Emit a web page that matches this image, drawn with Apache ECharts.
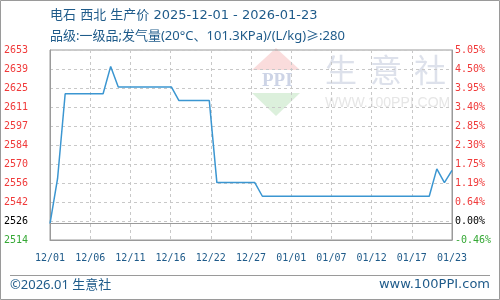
<!DOCTYPE html>
<html><head><meta charset="utf-8">
<script src="https://cdn.jsdelivr.net/npm/echarts@6/dist/echarts.min.js"></script>
<style>html,body{margin:0;padding:0;background:#fff}#c{width:500px;height:300px}</style>
</head><body><div id="c"></div>
<script>
// Data (vertices of the price line)
const dates  = ['2025-12-01','2025-12-02','2025-12-03','2025-12-08','2025-12-09','2025-12-10','2025-12-17','2025-12-18','2025-12-22','2025-12-23','2025-12-28','2025-12-29','2026-01-20','2026-01-21','2026-01-22','2026-01-23'];
const prices = [2526,2559,2621,2621,2641,2626,2626,2616,2616,2556,2556,2546,2546,2566,2556,2565];
const startDate = '2025-12-01';
const endDate = '2026-01-23';
const basePrice = 2526;
const leftTicks  = ['2514','2526','2542','2556','2570','2584','2597','2611','2625','2639','2653'];
const rightTicks = ['-0.46%','0.00%','0.64%','1.19%','1.75%','2.30%','2.85%','3.40%','3.95%','4.50%','5.05%'];
const titleLine1 = '电石 西北 生产价 2025-12-01 - 2026-01-23';
const titleLine2 = '品级:一级品;发气量(20°C、101.3KPa)/(L/kg)≥:280';

const DAY = 86400000;
const t0 = Date.parse(startDate);
const totalDays = (Date.parse(endDate) - t0) / DAY;
const seriesData = dates.map((d, i) => [(Date.parse(d) - t0) / DAY, prices[i]]);
function fmtDay(v) {
  const dt = new Date(t0 + Math.floor(v + 1e-6) * DAY);
  const m = String(dt.getUTCMonth() + 1).padStart(2, '0');
  const d = String(dt.getUTCDate()).padStart(2, '0');
  return m + '/' + d;
}
function tickColor(i) { return i === 0 ? '#35a835' : (i === 1 ? '#000000' : '#f03a3a'); }

const chart = echarts.init(document.getElementById('c'), null, {renderer: 'canvas'});
const mono = 'DejaVu Sans Mono';
const blue = '#1f5b8a';
chart.setOption({
  animation: false,
  backgroundColor: '#fff',
  grid: {left: 50, right: 48, top: 50, bottom: 60, show: true, borderColor: '#9a9a9a', borderWidth: 1},
  xAxis: {
    type: 'value', min: 0, max: totalDays, interval: totalDays / 10,
    axisLine: {show: true, lineStyle: {color: '#9a9a9a'}},
    axisTick: {show: false},
    splitLine: {show: true, lineStyle: {color: '#c8c8c8', type: [3, 3]}},
    axisLabel: {color: blue, fontFamily: mono, fontSize: 10, margin: 13, showMinLabel: true, showMaxLabel: true, formatter: fmtDay}
  },
  yAxis: [
    {type: 'value', min: 2514, max: 2653, show: false, splitLine: {show: false}},
    {type: 'value', position: 'left', min: 0, max: 10, interval: 1,
      axisLine: {show: true, lineStyle: {color: '#9a9a9a'}}, axisTick: {show: false},
      splitLine: {show: true, lineStyle: {color: '#c8c8c8', type: [3, 3]}},
      axisLabel: {fontFamily: mono, fontSize: 10, margin: 22,
        formatter: (v) => leftTicks[Math.round(v)],
        color: (v) => tickColor(Math.round(v))}},
    {type: 'value', position: 'right', min: 0, max: 10, interval: 1,
      axisLine: {show: true, lineStyle: {color: '#9a9a9a'}}, axisTick: {show: false},
      splitLine: {show: false},
      axisLabel: {fontFamily: mono, fontSize: 10, margin: 3,
        formatter: (v) => rightTicks[Math.round(v)],
        color: (v) => tickColor(Math.round(v))}}
  ],
  graphic: [
    {type: 'rect', shape: {x: 0.5, y: 0.5, width: 499, height: 299}, style: {fill: null, stroke: '#9a9a9a', lineWidth: 1}, silent: true, z: 100},
    {type: 'text', x: 50, y: 15.5, style: {text: titleLine1, fill: blue, font: '13px "DejaVu Sans", "Noto Sans CJK SC"', verticalAlign: 'middle'}},
    {type: 'text', x: 50, y: 36, style: {text: titleLine2, fill: blue, font: '13px "Noto Sans", "Noto Sans CJK SC"', verticalAlign: 'middle'}},
    {type: 'line', shape: {x1: 10, y1: 275.5, x2: 490, y2: 275.5}, style: {stroke: '#9a9a9a', lineWidth: 1}},
    {type: 'text', x: 10, y: 285, style: {text: '©2026.01 生意社', fill: blue, font: '13px "Noto Sans", "Noto Sans CJK SC"', verticalAlign: 'middle'}},
    {type: 'text', x: 490, y: 285, style: {text: 'www.100PPI.com', fill: blue, font: '13px "DejaVu Sans", "Noto Sans CJK SC"', verticalAlign: 'middle', align: 'right'}},
    // watermark
    {type: 'polygon', shape: {points: [[252, 70], [276, 48], [300, 70]]}, style: {fill: '#fadcdc'}, silent: true, z: -1},
    {type: 'polygon', shape: {points: [[252, 93], [276, 116], [300, 93]]}, style: {fill: '#dcf0dc'}, silent: true, z: -1},
    {type: 'text', x: 262, y: 81.5, style: {text: 'PPI', fill: '#cdd4e6', font: 'bold 19px "Liberation Serif"', verticalAlign: 'middle'}, silent: true, z: -1},
    {type: 'text', x: 325, y: 70, style: {text: '生', fill: '#dde1eb', font: '32px "Noto Sans CJK SC"', verticalAlign: 'middle'}, silent: true, z: -1},
    {type: 'text', x: 370, y: 70, style: {text: '意', fill: '#dde1eb', font: '32px "Noto Sans CJK SC"', verticalAlign: 'middle'}, silent: true, z: -1},
    {type: 'text', x: 414, y: 70, style: {text: '社', fill: '#dde1eb', font: '32px "Noto Sans CJK SC"', verticalAlign: 'middle'}, silent: true, z: -1},
    {type: 'text', x: 325, y: 103.5, style: {text: 'WWW.100PPI.COM', fill: '#e6e6e6', font: '14px "Liberation Sans"', verticalAlign: 'middle'}, silent: true, z: -1}
  ],
  series: [{
    type: 'line', xAxisIndex: 0, yAxisIndex: 0, data: seriesData,
    showSymbol: false, symbol: 'none',
    lineStyle: {color: '#3b96d1', width: 1.5},
    markLine: {silent: true, symbol: 'none', label: {show: false},
      lineStyle: {color: '#9a9a9a', type: 'solid', width: 1},
      data: [{yAxis: basePrice}]}
  }]
});
</script></body></html>
